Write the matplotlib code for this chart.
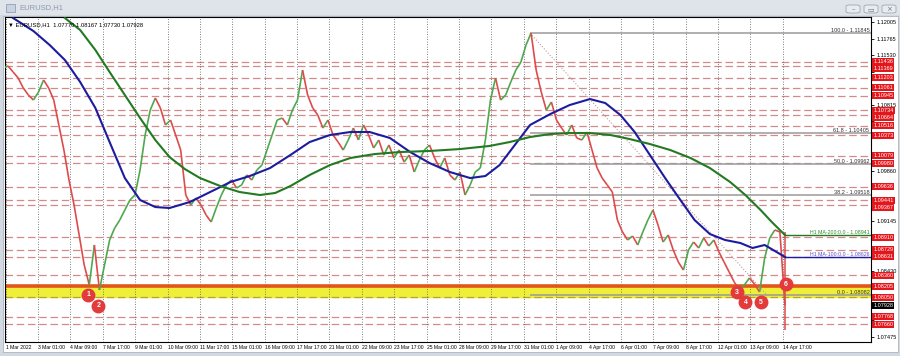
import numpy as np
import matplotlib.pyplot as plt
import matplotlib.transforms as mtransforms
from matplotlib.collections import LineCollection
from matplotlib.patches import Rectangle, FancyBboxPatch

plt.rcParams['font.family'] = ['Liberation Sans', 'DejaVu Sans']

# EURUSD H1, 1 Mar - 14 Apr 2022. x = hour bars from left edge, sampled every 5 bars
hours = list(range(0, 775, 5))
closes = [
    1.11343, 1.11372, 1.11286, 1.11199, 1.11056, 1.10955, 1.10883, 1.10998, 1.11171, 1.11056,
    1.10883, 1.10524, 1.10164, 1.09733, 1.09373, 1.08942, 1.08510, 1.08223, 1.08798, 1.08151,
    1.08510, 1.08870, 1.09042, 1.09157, 1.09301, 1.09445, 1.09517, 1.09876, 1.10380, 1.10739,
    1.10912, 1.10768, 1.10524, 1.10595, 1.10380, 1.10164, 1.09517, 1.09373, 1.09474, 1.09373,
    1.09229, 1.09129, 1.09330, 1.09517, 1.09661, 1.09733, 1.09618, 1.09661, 1.09805, 1.09733,
    1.09876, 1.09948, 1.10164, 1.10380, 1.10595, 1.10624, 1.10524, 1.10739, 1.10883, 1.11314,
    1.10955, 1.10768, 1.10667, 1.10480, 1.10595, 1.10380, 1.10279, 1.10164, 1.10308, 1.10480,
    1.10308, 1.10524, 1.10380, 1.10193, 1.10308, 1.10092, 1.10236, 1.10049, 1.10164, 1.09991,
    1.10092, 1.09848, 1.10020, 1.10164, 1.10236, 1.10049, 1.09905, 1.10049, 1.09805, 1.09733,
    1.09848, 1.09517, 1.09661, 1.09848, 1.09905, 1.10308, 1.10883, 1.11199, 1.10883, 1.10955,
    1.11142, 1.11314, 1.11429, 1.11674, 1.11845, 1.11314, 1.10998, 1.10739, 1.10854, 1.10595,
    1.10480, 1.10380, 1.10524, 1.10337, 1.10308, 1.10423, 1.10164, 1.09905, 1.09761, 1.09661,
    1.09560, 1.09157, 1.08985, 1.08870, 1.08927, 1.08798, 1.08985, 1.09157, 1.09301, 1.09085,
    1.08841, 1.08942, 1.08726, 1.08553, 1.08438, 1.08726, 1.08841, 1.08755, 1.08899, 1.08784,
    1.08870, 1.08697, 1.08553, 1.08410, 1.08266, 1.08151, 1.08223, 1.08323, 1.08237, 1.08122,
    1.08611, 1.08899, 1.09014, 1.08985, 1.07928,
]
last_low = 1.07576

ma100_hours = [10, 30, 46, 61, 76, 91, 105, 120, 135, 150, 164, 184, 204, 224, 243, 263,
               283, 302, 322, 342, 361, 381, 401, 420, 440, 460, 475, 489, 504, 519, 539,
               558, 578, 593, 608, 622, 637, 652, 667, 681, 696, 711, 726, 738, 750, 770]
ma100 = [1.12062, 1.11875, 1.11674, 1.11458, 1.11142, 1.10768, 1.10279, 1.09761, 1.09445,
         1.09344, 1.09330, 1.09416, 1.09560, 1.09704, 1.09790, 1.09905, 1.10092, 1.10279,
         1.10380, 1.10423, 1.10423, 1.10337, 1.10135, 1.09977, 1.09848, 1.09761, 1.09790,
         1.09948, 1.10236, 1.10524, 1.10682, 1.10811, 1.10897, 1.10840, 1.10667, 1.10423,
         1.10092, 1.09761, 1.09445, 1.09157, 1.08956, 1.08870, 1.08827, 1.08755, 1.08798,
         1.08626]
ma200_hours = [61, 76, 91, 105, 120, 135, 150, 164, 179, 194, 214, 233, 253, 268, 283, 302,
               322, 342, 366, 391, 420, 450, 479, 499, 519, 539, 558, 578, 598, 617, 637,
               657, 677, 696, 716, 731, 746, 757, 770]
ma200 = [1.12062, 1.11890, 1.11602, 1.11286, 1.10955, 1.10624, 1.10308, 1.10063, 1.09891,
         1.09761, 1.09646, 1.09560, 1.09517, 1.09546, 1.09646, 1.09805, 1.09948, 1.10049,
         1.10106, 1.10135, 1.10150, 1.10178, 1.10222, 1.10279, 1.10351, 1.10394, 1.10408,
         1.10408, 1.10380, 1.10322, 1.10250, 1.10164, 1.10049, 1.09905, 1.09704, 1.09517,
         1.09301, 1.09129, 1.08941]
ma100_last = 1.08626
ma200_last = 1.08941

levels = [1.11436, 1.11369, 1.11203, 1.11061, 1.10945, 1.10734, 1.10664, 1.10516, 1.10373,
          1.10079, 1.09980, 1.09636, 1.09441, 1.09367, 1.08910, 1.08729, 1.08631, 1.08360,
          1.07768, 1.07660]
zone_top = 1.08205
zone_bottom = 1.08050
last_price = 1.07928

fib_names = ['100.0', '61.8', '50.0', '38.2', '0.0']
fib_values = [1.11845, 1.10405, 1.09962, 1.09518, 1.08082]

axis_ticks = [1.12005, 1.11765, 1.11530, 1.11290, 1.11050, 1.10815, 1.10575, 1.10340,
              1.10100, 1.09860, 1.09625, 1.09385, 1.09145, 1.08905, 1.08670, 1.08430,
              1.08190, 1.07955, 1.07715, 1.07475]
time_labels = ['1 Mar 2022', '3 Mar 01:00', '4 Mar 09:00', '7 Mar 17:00', '9 Mar 01:00',
               '10 Mar 09:00', '11 Mar 17:00', '15 Mar 01:00', '16 Mar 09:00', '17 Mar 17:00',
               '21 Mar 01:00', '22 Mar 09:00', '23 Mar 17:00', '25 Mar 01:00', '28 Mar 09:00',
               '29 Mar 17:00', '31 Mar 01:00', '1 Apr 09:00', '4 Apr 17:00', '6 Apr 01:00',
               '7 Apr 09:00', '8 Apr 17:00', '12 Apr 01:00', '13 Apr 09:00', '14 Apr 17:00']

marks = ['1', '2', '3', '4', '5', '6']
mark_hours = [84, 94, 723, 731, 746, 771]
mark_prices = [1.08079, 1.07921, 1.08122, 1.07978, 1.07978, 1.08237]

W, H = 900, 356
AX_H = 325
Y0, Y1 = 1.07403, 1.12077


def box(x0, y0, w, h):
    # pixel box (top-left origin) -> figure fraction
    return [x0 / W, 1 - (y0 + h) / H, w / W, h / H]


fig = plt.figure(figsize=(9, 3.56), dpi=100, facecolor='#d3d9e1')

# window chrome (kept behind the axes)
fig.add_artist(Rectangle((0, 1 - 15 / H), 1, 15 / H, transform=fig.transFigure,
                         fc='#dfe4eb', ec='none', zorder=-10))
fig.add_artist(Rectangle((6 / W, 1 - 12 / H), 9 / W, 8 / H, transform=fig.transFigure,
                         fc='#c9d3df', ec='#8fa0b5', lw=0.6, zorder=-9))
fig.text(19 / W, 1 - 8 / H, 'EURUSD,H1', color='#8d99aa', fontsize=5.5, va='center')
for bx, glyph in zip([846, 864, 882], ['–', '▭', '×']):
    fig.add_artist(FancyBboxPatch((bx / W, 1 - 13 / H), 14 / W, 8 / H,
                                  boxstyle='round,pad=0,rounding_size=0.004',
                                  transform=fig.transFigure, fc='#e8ecf1', ec='#9aa6b5',
                                  lw=0.6, zorder=-9))
    fig.text((bx + 7) / W, 1 - 9 / H, glyph, color='#6a7585', fontsize=5,
             ha='center', va='center', family='DejaVu Sans')
fig.add_artist(Rectangle((3 / W, 4 / H), 895 / W, 336 / H, transform=fig.transFigure,
                         fc='white', ec='#a9b3bf', lw=0.6, zorder=-10))

ax = fig.add_axes(box(5, 17, 866, AX_H))
ax.set_xlim(2, 854.7)
ax.set_ylim(Y0, Y1)
ax.set_facecolor('white')
for s in ax.spines.values():
    s.set_color('black')
    s.set_linewidth(0.8)

# x axis: date labels every 32 bars, dotted grid
tick_pos = [2.5] + [34.46 + 31.89 * k for k in range(24)]
ax.set_xticks(tick_pos)
ax.set_xticklabels(time_labels)
for lbl in ax.get_xticklabels():
    lbl.set_ha('left')
ax.tick_params(axis='x', length=0, pad=2.5, labelsize=3.6)
ax.grid(axis='x', color='#555555', ls=(0, (1, 2)), lw=0.6)

# price labels on the right axis: spread apart where boxes would collide
px_per_price = AX_H / (Y1 - Y0)
red_vals = sorted(levels + [zone_top, zone_bottom, last_price], reverse=True)
label_y = []
prev = None
for v in red_vals:
    y = v
    if prev is not None and (prev - y) * px_per_price < 7.2:
        y = prev - 7.2 / px_per_price
    label_y.append(y)
    prev = y

ax.yaxis.tick_right()
ax.set_yticks(axis_ticks)
ax.set_yticklabels([f'{v:.5f}' for v in axis_ticks])
ax.tick_params(axis='y', length=2.5, width=0.6, pad=1.5, labelsize=4.0)
for t, lbl in zip(axis_ticks, ax.get_yticklabels()):
    if min(abs(t - y) for y in label_y) * px_per_price < 4.5:
        lbl.set_visible(False)

# support / resistance zone
ax.axhspan(zone_bottom, zone_top, color='#efef3a', zorder=1)
for v in levels:
    ax.axhline(v, color='#d48a8a', lw=0.9, ls=(0, (6, 3)), zorder=1.5)
ax.axhline(zone_bottom, color='#b7a23a', lw=0.9, ls=(0, (6, 3)), zorder=1.5)
ax.axhline(zone_top, color='#e2561c', lw=2.6, zorder=1.6)

# fibonacci retracement
ax.plot([519, 752], [fib_values[0], fib_values[-1]], ls=':', color='#c49a9a', lw=0.8, zorder=1.7)
ax.hlines(fib_values, 519, 854.7, color='#9a9a9a', lw=1.1, zorder=1.7)
for n, v in zip(fib_names, fib_values):
    ax.text(853, v + 0.00004, f'{n} - {v:.5f}', ha='right', va='bottom', fontsize=4,
            color='#333333', zorder=6)

# price
pts = np.column_stack([hours, closes])
segs = np.stack([pts[:-1], pts[1:]], axis=1)
cols = ['#4ea84e' if b >= a else '#dd4b4b' for a, b in zip(closes[:-1], closes[1:])]
ax.add_collection(LineCollection(segs, colors=cols, linewidths=1.2, zorder=4))
ax.vlines(hours[-1], last_low, closes[-2], color='#dd4b4b', lw=1.1, zorder=4)

# moving averages
ax.plot(ma100_hours, ma100, color='#1c1ca0', lw=1.5, zorder=5)
ax.plot(ma200_hours, ma200, color='#237a23', lw=1.5, zorder=5)
ax.hlines(ma200_last, 770, 854.7, color='#237a23', lw=1.0, zorder=5)
ax.hlines(ma100_last, 770, 854.7, color='#1c1ca0', lw=1.0, zorder=5)
ax.text(853, ma200_last + 0.00004, f'H1 MA-200:0.0 - {ma200_last:.5f}', ha='right',
        va='bottom', fontsize=3.8, color='#2e8b2e', zorder=6)
ax.text(853, ma100_last + 0.00004, f'H1 MA-100:0.0 - {ma100_last:.5f}', ha='right',
        va='bottom', fontsize=3.8, color='#5a50c8', zorder=6)

# touch markers
ax.plot(mark_hours, mark_prices, 'o', ms=9, color='#e33b3b', mec='#e33b3b', zorder=7,
        clip_on=False)
for t, h, p in zip(marks, mark_hours, mark_prices):
    ax.text(h, p, t, ha='center', va='center', fontsize=5, color='white',
            fontweight='bold', zorder=8)

# header
ax.text(0.004, 0.985, '▼ EURUSD,H1  1.07770 1.08167 1.07730 1.07928',
        transform=ax.transAxes, ha='left', va='top', fontsize=4.2, color='black', zorder=8)

trans = mtransforms.blended_transform_factory(ax.transAxes, ax.transData)
for v, y in zip(red_vals, label_y):
    fc = 'black' if v == last_price else '#e3161c'
    ax.text(1.0025, y, f'{v:.5f}', transform=trans, ha='left', va='center', fontsize=4.0,
            color='white', clip_on=False, zorder=9,
            bbox=dict(boxstyle='square,pad=0.18', fc=fc, ec='none'))

fig.savefig('out.png', dpi=100, facecolor=fig.get_facecolor())
